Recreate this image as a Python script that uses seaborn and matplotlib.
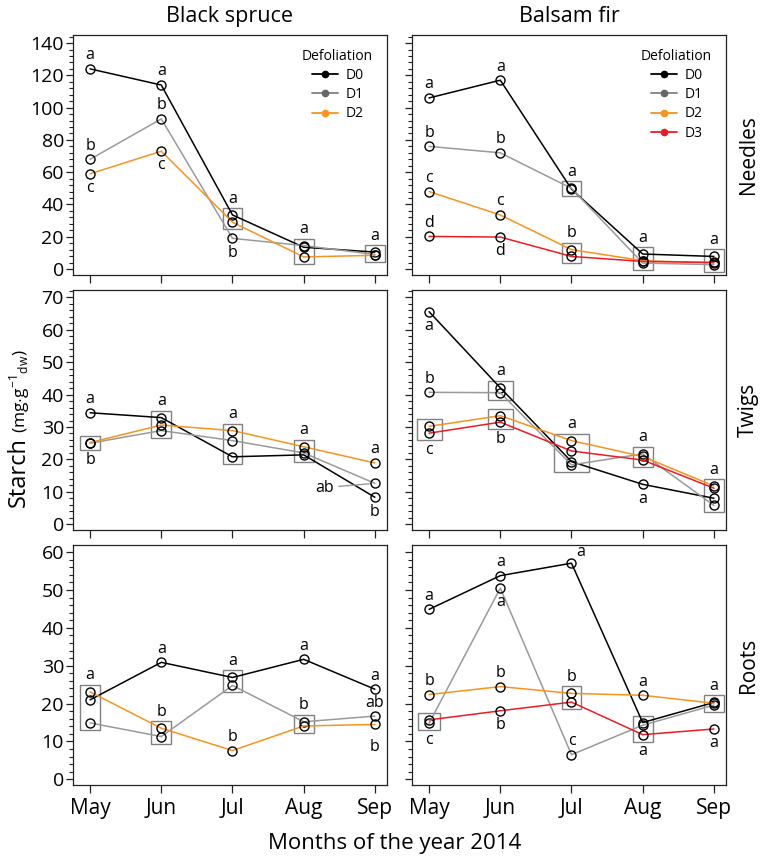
import pandas as pd
import seaborn as sns
import matplotlib
matplotlib.use("Agg")
from matplotlib import pyplot as plt
from matplotlib.lines import Line2D
from matplotlib.patches import Rectangle
from matplotlib.ticker import MultipleLocator

months = ["May", "Jun", "Jul", "Aug", "Sep"]
species = ["Black spruce", "Balsam fir"]
tissues = ["Needles", "Twigs", "Roots"]

# starch (mg g-1 dw)
needles_bs = {"D0": [124, 114, 33.5, 13.5, 10.5],
              "D1": [68, 93, 19, 14.5, 9.0],
              "D2": [59, 73, 29, 7.5, 8.5]}
needles_bf = {"D0": [106, 117, 49.5, 9.3, 7.8],
              "D1": [76, 72, 50, 3.7, 2.7],
              "D2": [48, 33.5, 12, 5.2, 3.7],
              "D3": [20.2, 19.8, 7.8, 4.7, 4.1]}
twigs_bs = {"D0": [34.4, 32.9, 20.8, 21.4, 8.3],
            "D1": [25.0, 28.9, 25.8, 22.0, 12.6],
            "D2": [25.2, 30.6, 28.9, 23.9, 18.9]}
twigs_bf = {"D0": [65.6, 42.1, 19.3, 12.3, 8.0],
            "D1": [40.7, 40.6, 18.3, 21.7, 5.8],
            "D2": [30.2, 33.5, 25.8, 20.9, 11.8],
            "D3": [28.1, 31.5, 22.6, 19.8, 11.1]}
roots_bs = {"D0": [21.0, 30.9, 26.9, 31.7, 23.8],
            "D1": [14.9, 11.3, 24.8, 15.2, 16.7],
            "D2": [23.1, 13.5, 7.6, 14.1, 14.5]}
roots_bf = {"D0": [44.9, 53.8, 57.1, 15.0, 20.3],
            "D1": [14.8, 50.5, 6.5, 14.3, 19.6],
            "D2": [22.4, 24.5, 22.7, 22.2, 20.1],
            "D3": [15.7, 18.1, 20.4, 11.8, 13.3]}

ALL3 = ["D0", "D1", "D2"]
ALL4 = ["D0", "D1", "D2", "D3"]

# significance letters: (month, group, letter, side)
needles_bs_letters = [(0, "D0", "a", "u"), (0, "D1", "b", "u"), (0, "D2", "c", "d"),
                      (1, "D0", "a", "u"), (1, "D1", "b", "u"), (1, "D2", "c", "d"),
                      (2, "D1", "b", "d")]
needles_bf_letters = [(0, "D0", "a", "u"), (0, "D1", "b", "u"), (0, "D2", "c", "u"), (0, "D3", "d", "u"),
                      (1, "D0", "a", "u"), (1, "D1", "b", "u"), (1, "D2", "c", "u"), (1, "D3", "d", "d")]
twigs_bs_letters = [(0, "D0", "a", "u"), (4, "D2", "a", "u"), (4, "D1", "ab", "l"), (4, "D0", "b", "d")]
twigs_bf_letters = [(0, "D0", "a", "d"), (0, "D1", "b", "u"), (3, "D0", "a", "d")]
roots_bs_letters = [(1, "D0", "a", "u"), (2, "D2", "b", "u"), (3, "D0", "a", "u"),
                    (4, "D0", "a", "u"), (4, "D1", "ab", "u"), (4, "D2", "b", "dd")]
roots_bf_letters = [(0, "D0", "a", "u"), (0, "D2", "b", "u"),
                    (1, "D0", "a", "u"), (1, "D1", "a", "d"), (1, "D2", "b", "u"), (1, "D3", "b", "d"),
                    (2, "D0", "a", "ur"), (2, "D1", "c", "u"), (3, "D2", "a", "u"), (4, "D3", "a", "d")]

# grey boxes around groups that do not differ: (month, groups, letter, side, width factor)
needles_bs_boxes = [(2, ["D0", "D2"], "a", "u", 1), (3, ALL3, "a", "u", 1), (4, ALL3, "a", "u", 1)]
needles_bf_boxes = [(2, ["D0", "D1"], "a", "u", 1), (2, ["D2", "D3"], "b", "u", 1),
                    (3, ALL4, "a", "u", 1), (4, ALL4, "a", "u", 1)]
twigs_bs_boxes = [(0, ["D1", "D2"], "b", "d", 1), (1, ALL3, "a", "u", 1), (2, ALL3, "a", "u", 1),
                  (3, ALL3, "a", "u", 1)]
twigs_bf_boxes = [(0, ["D2", "D3"], "c", "d", 1.25), (1, ["D0", "D1"], "a", "u", 1.25),
                  (1, ["D2", "D3"], "b", "d", 1.25), (2, ALL4, "a", "u", 1.8),
                  (3, ["D1", "D2", "D3"], "a", "u", 1), (4, ALL4, "a", "u", 1)]
roots_bs_boxes = [(0, ALL3, "a", "u", 1), (1, ["D1", "D2"], "b", "u", 1), (2, ["D0", "D1"], "a", "u", 1),
                  (3, ["D1", "D2"], "b", "u", 1)]
roots_bf_boxes = [(0, ["D1", "D3"], "c", "d", 1.1), (2, ["D2", "D3"], "b", "u", 1),
                  (3, ["D0", "D1", "D3"], "a", "d", 1), (4, ["D0", "D1", "D2"], "a", "u", 1)]

line_colors = {"D0": "#000000", "D1": "#9a9a9a", "D2": "#f7941d", "D3": "#ed1c24"}
legend_marker = {"D0": "#000000", "D1": "#666666", "D2": "#f7941d", "D3": "#ed1c24"}
legend_line = {"D0": "#000000", "D1": "#808080", "D2": "#f7941d", "D3": "#ed1c24"}

panels = [
    [(needles_bs, needles_bs_letters, needles_bs_boxes), (needles_bf, needles_bf_letters, needles_bf_boxes)],
    [(twigs_bs, twigs_bs_letters, twigs_bs_boxes), (twigs_bf, twigs_bf_letters, twigs_bf_boxes)],
    [(roots_bs, roots_bs_letters, roots_bs_boxes), (roots_bf, roots_bf_letters, roots_bf_boxes)],
]
ylims = [(-3.7, 145), (-1.8, 72.3), (-1.5, 61.9)]
major_step = [20, 10, 10]
minor_step = [4, 2, 2]

sns.set_theme(style="ticks")
plt.rcParams["font.family"] = ["Open Sans", "DejaVu Sans"]
plt.rcParams["mathtext.fontset"] = "custom"
plt.rcParams["mathtext.rm"] = "Open Sans"
plt.rcParams["axes.edgecolor"] = "#222222"
plt.rcParams["axes.linewidth"] = 0.9
for key in ["text.color", "axes.labelcolor", "xtick.color", "ytick.color"]:
    plt.rcParams[key] = "black"

W, H = 765, 859
fig = plt.figure(figsize=(W / 100, H / 100), dpi=100)

col_left = [73, 412]
col_width = 314
row_top = [35, 290, 545]
row_height = 240

letter_size = 11.5


def to_long(data):
    rows = []
    for g, vals in data.items():
        for i, v in enumerate(vals):
            rows.append({"month": i, "starch": v, "group": g})
    return pd.DataFrame(rows)


def add_annotations(ax, data, letters, boxes):
    y0, y1 = ax.get_ylim()
    per_px = (y1 - y0) / ax.bbox.height
    pad = 7 * per_px
    for m, groups, letter, side, wf in boxes:
        half_w = 0.14 * wf
        vals = [data[g][m] for g in groups]
        lo, hi = min(vals) - pad, max(vals) + pad
        ax.add_patch(Rectangle((m - half_w, lo), 2 * half_w, hi - lo, fill=False,
                               ec="#808080", lw=1.0, zorder=1.5))
        if side == "u":
            ax.annotate(letter, (m, hi), xytext=(0, 1.0), textcoords="offset points",
                        ha="center", va="bottom", fontsize=letter_size)
        else:
            ax.annotate(letter, (m, lo), xytext=(0, -1.0), textcoords="offset points",
                        ha="center", va="top", fontsize=letter_size)
    offsets = {"u": (0, 4.0, "center", "bottom"), "d": (0, -4.5, "center", "top"),
               "dd": (0, -10.5, "center", "top"), "ur": (6.5, 2.5, "center", "bottom")}
    for m, g, letter, side in letters:
        y = data[g][m]
        if side == "l":
            ax.annotate(letter, (m, y), xytext=(-36, -3), textcoords="offset points",
                        ha="center", va="center", fontsize=letter_size,
                        arrowprops=dict(arrowstyle="-", color="#999999", lw=1.0,
                                        shrinkA=1, shrinkB=4))
            continue
        dx, dy, ha, va = offsets[side]
        ax.annotate(letter, (m, y), xytext=(dx, dy), textcoords="offset points",
                    ha=ha, va=va, fontsize=letter_size)


for r in range(3):
    for c in range(2):
        data, letters, boxes = panels[r][c]
        ax = fig.add_axes([col_left[c] / W, 1 - (row_top[r] + row_height) / H,
                           col_width / W, row_height / H])
        df = to_long(data)
        groups = list(data.keys())
        sns.lineplot(data=df, x="month", y="starch", hue="group", hue_order=groups,
                     palette=line_colors, marker="o", markersize=6.5,
                     markerfacecolor="none", markeredgecolor="black", markeredgewidth=1.0,
                     linewidth=1.1, errorbar=None, legend=False, ax=ax, zorder=2)
        ax.set_xlim(-0.24, 4.17)
        ax.set_ylim(*ylims[r])
        ax.set_xticks(range(len(months)))
        ax.set_xticklabels(months if r == 2 else [])
        ax.yaxis.set_major_locator(MultipleLocator(major_step[r]))
        ax.yaxis.set_minor_locator(MultipleLocator(minor_step[r]))
        ax.tick_params(axis="y", which="major", length=5, width=0.9, labelsize=14, pad=1.5,
                       direction="out", color="#222222")
        ax.tick_params(axis="y", which="minor", length=2.8, width=0.8, direction="out",
                       color="#222222")
        ax.tick_params(axis="x", length=6, width=0.9, labelsize=15, pad=3.5, direction="out",
                       color="#222222")
        if c == 1:
            ax.tick_params(axis="y", labelleft=False)
        ax.set_xlabel("")
        ax.set_ylabel("")
        add_annotations(ax, data, letters, boxes)
        if r == 0:
            handles = [Line2D([], [], color=legend_line[g], lw=1.3, marker="o", ms=4.5,
                              mfc=legend_marker[g], mec=legend_marker[g]) for g in groups]
            ax.legend(handles, groups, title="Defoliation", loc="upper right",
                      frameon=False, fontsize=10, title_fontsize=10,
                      handlelength=1.9, handletextpad=0.5, labelspacing=0.3,
                      borderaxespad=0.6)
            ax.set_title(species[c], fontsize=15.5, pad=9)

for r in range(3):
    yc = row_top[r] + row_height / 2
    fig.text(748 / W, 1 - yc / H, tissues[r], rotation=90, ha="center", va="center", fontsize=15)

fig.text(395 / W, 1 - 843 / H, "Months of the year 2014", ha="center", va="center", fontsize=16)

# y label: "Starch" plus a smaller unit, both on one baseline
starch = fig.text(25 / W, 1 - 507 / H, "Starch", rotation=90, rotation_mode="anchor",
                  ha="left", va="baseline", fontsize=17)
fig.canvas.draw()
top_px = starch.get_window_extent().y1
fig.text(25 / W, (top_px + 4) / H, r"(mg$\cdot$g$^{\mathregular{-1}}$$_{\mathregular{dw}}$)",
         rotation=90, rotation_mode="anchor", ha="left", va="baseline", fontsize=12.5)

fig.savefig("out.png", dpi=100)
